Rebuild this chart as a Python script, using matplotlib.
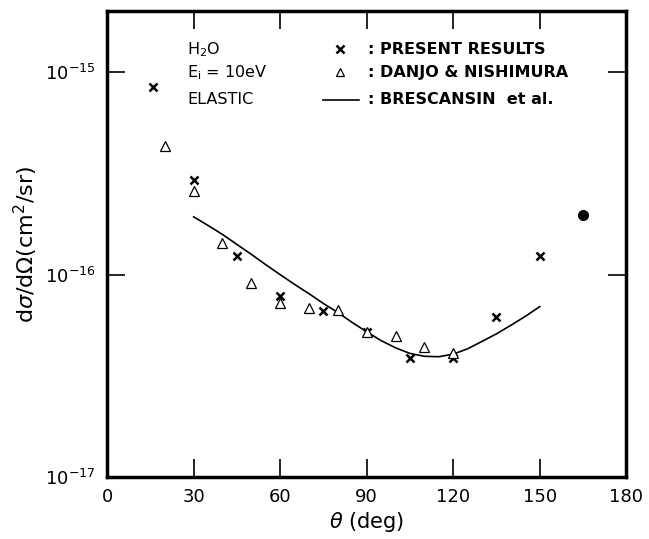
import numpy as np
import matplotlib
matplotlib.use('Agg')
import matplotlib.pyplot as plt

# present results (x marks)
th_present = [16, 30, 45, 60, 75, 90, 105, 120, 135, 150]
cs_present = [8.5e-16, 2.94e-16, 1.24e-16, 7.85e-17, 6.61e-17, 5.22e-17,
              3.86e-17, 3.86e-17, 6.2e-17, 1.23e-16]

# Danjo & Nishimura (open triangles)
th_danjo = [20, 30, 40, 50, 60, 70, 80, 90, 100, 110, 120]
cs_danjo = [4.34e-16, 2.58e-16, 1.44e-16, 9.13e-17, 7.27e-17, 6.82e-17,
            6.69e-17, 5.22e-17, 4.97e-17, 4.40e-17, 4.11e-17]

# Brescansin et al. (solid curve), read every 5 deg
th_bres = [30, 35, 40, 45, 50, 55, 60, 65, 70, 75, 80, 85, 90, 95, 100,
           105, 110, 115, 120, 125, 130, 135, 140, 145, 150]
cs_bres = [1.93e-16, 1.75e-16, 1.58e-16, 1.41e-16, 1.26e-16, 1.12e-16,
           1.0e-16, 8.95e-17, 8.05e-17, 7.2e-17, 6.5e-17, 5.8e-17, 5.22e-17,
           4.72e-17, 4.35e-17, 4.08e-17, 3.95e-17, 3.93e-17, 4.05e-17,
           4.3e-17, 4.68e-17, 5.1e-17, 5.62e-17, 6.22e-17, 6.95e-17]

# single filled point
th_dot = [165]
cs_dot = [1.98e-16]

plt.rcParams['font.family'] = 'DejaVu Sans'

fig = plt.figure(figsize=(6.49, 5.39), dpi=100)
ax = fig.add_axes([0.165, 0.115, 0.8, 0.864])

ax.plot(th_bres, cs_bres, 'k-', lw=1.2)
ax.plot(th_present, cs_present, 'kx', ms=6, mew=1.8)
ax.plot(th_danjo, cs_danjo, 'k^', ms=7, mfc='white', mew=0.9)
ax.plot(th_dot, cs_dot, 'ko', ms=7)

ax.set_yscale('log')
ax.set_xlim(0, 180)
ax.set_ylim(1e-17, 2.0e-15)
ax.set_xticks([0, 30, 60, 90, 120, 150, 180])
ax.set_xticklabels(['0', '30', '60', '90', '120', '150', '180'], fontsize=13)
ax.set_yticks([1e-17, 1e-16, 1e-15])
ax.set_yticklabels([r'$10^{-17}$', r'$10^{-16}$', r'$10^{-15}$'], fontsize=13)
ax.yaxis.set_minor_locator(matplotlib.ticker.NullLocator())
ax.tick_params(direction='in', length=13, width=1.2, top=True, right=True, pad=8)
for s in ax.spines.values():
    s.set_linewidth(2.5)

ax.set_xlabel(r'$\theta$ (deg)', fontsize=15, labelpad=3)
ax.set_ylabel(r'd$\sigma$/d$\Omega$(cm$^2$/sr)', fontsize=16, labelpad=4)

# annotation block
fs = 11.5
ys = [1.3e-15, 1.0e-15, 7.3e-16]
ax.text(27.7, ys[0], r'H$_2$O', fontsize=fs, va='center')
ax.text(27.7, ys[1], r'E$_{\rm i}$ = 10eV', fontsize=fs, va='center')
ax.text(27.7, ys[2], 'ELASTIC', fontsize=fs, va='center')

ax.plot([80.7], [ys[0]], 'kx', ms=6, mew=1.8)
ax.plot([80.7], [ys[1]], 'k^', ms=6, mfc='white', mew=0.9)
ax.plot([74.8, 87.4], [ys[2], ys[2]], 'k-', lw=1.2)
ax.text(90.5, ys[0], ': PRESENT RESULTS', fontsize=fs, fontweight='bold', va='center')
ax.text(90.5, ys[1], ': DANJO & NISHIMURA', fontsize=fs, fontweight='bold', va='center')
ax.text(90.5, ys[2], ': BRESCANSIN  et al.', fontsize=fs, fontweight='bold', va='center')

fig.savefig('out.png', dpi=100)
